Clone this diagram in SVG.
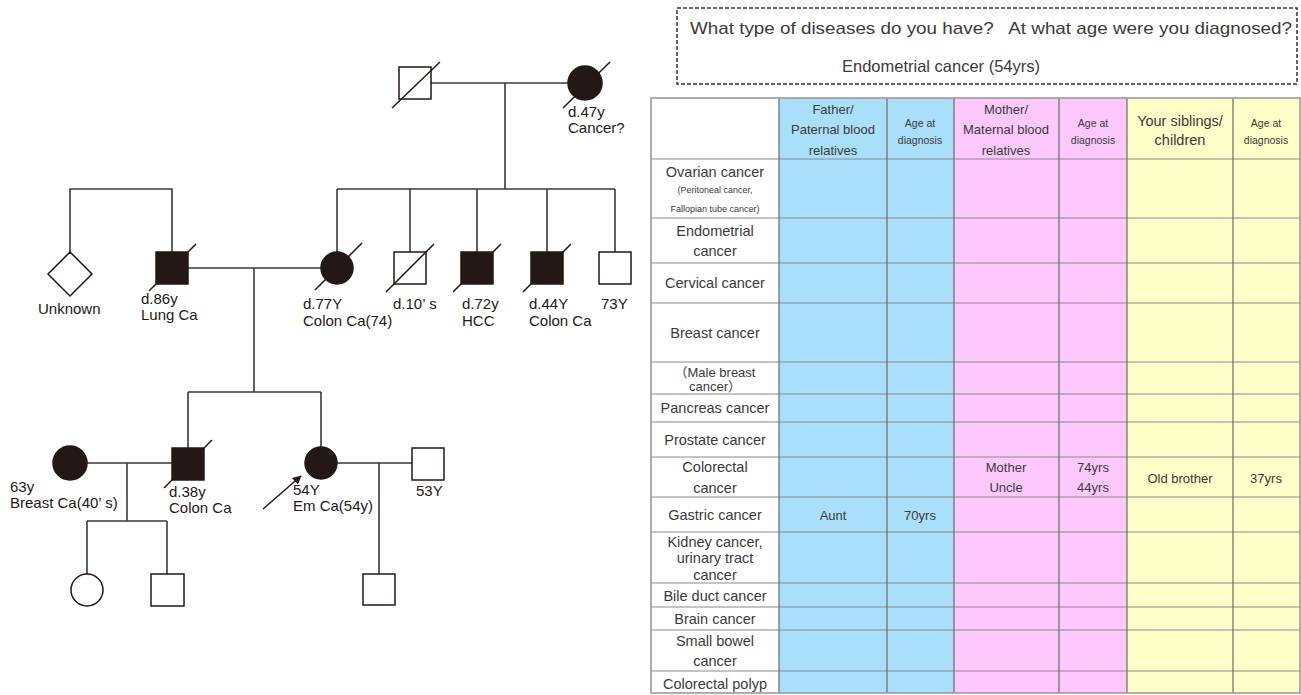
<svg xmlns="http://www.w3.org/2000/svg" width="1301" height="695" viewBox="0 0 1301 695">
<style>
.ln{stroke:#3a3a3a;stroke-width:1.6;fill:none}
.op{fill:#fff;stroke:#231815;stroke-width:1.5}
.fl{fill:#231815;stroke:#231815;stroke-width:1.5}
.sl{stroke:#231815;stroke-width:1.5}
.lb{font-family:"Liberation Sans",Arial,sans-serif;font-size:15px;fill:#231815}
.tt{font-family:"Liberation Sans","Noto Sans CJK JP",sans-serif;fill:#3a3a3a;text-anchor:middle}
.t14{font-size:14.5px}
.t13{font-size:13px}
.t11{font-size:10.5px}
.t9{font-size:9px}
.gv{stroke:#6a6a6a;stroke-width:1.2}
.gh{stroke:#8a8a8a;stroke-width:1.2}
</style>
<defs>
<marker id="ah" viewBox="0 0 10 10" refX="9" refY="5" markerWidth="9" markerHeight="9" markerUnits="userSpaceOnUse" orient="auto">
<path d="M0,0 L10,5 L0,10 z" fill="#231815"/>
</marker>
</defs>
<rect width="1301" height="695" fill="#fff"/>

<g id="connectors">
<path class="ln" d="M431,83 H568 M505,83 V189 M337,189 H615 M337,189 V252 M410,189 V252 M477,189 V252 M547,189 V252 M615,189 V252"/>
<path class="ln" d="M70,252 V189 H172 V252 M188,268 H321 M254,268 V392 M188,392 H321 M188,392 V448 M321,392 V447"/>
<path class="ln" d="M87,463 H172 M127,463 V521 M87,521 H167 M87,521 V574 M167,521 V574 M337,463 H412 M379,463 V574"/>
<line x1="263" y1="509" x2="301" y2="476" stroke="#231815" stroke-width="1.5" marker-end="url(#ah)"/>
</g>

<g id="n-grandfather"><rect class="op" x="399" y="67" width="32" height="32"/><line class="sl" x1="392" y1="108" x2="440" y2="62"/></g>
<g id="n-grandmother"><circle class="fl" cx="585" cy="83" r="17"/><line class="sl" x1="563" y1="108" x2="610" y2="62"/>
<text class="lb" x="568" y="117">d.47y</text><text class="lb" x="568" y="133">Cancer?</text></g>

<g id="n-unknown"><polygon class="op" points="70,252 92,274 70,296 48,274"/><text class="lb" x="38" y="314">Unknown</text></g>
<g id="n-father"><rect class="fl" x="156" y="252" width="32" height="32"/><line class="sl" x1="149" y1="291" x2="196" y2="244"/>
<text class="lb" x="141" y="304">d.86y</text><text class="lb" x="141" y="320">Lung Ca</text></g>
<g id="n-mother"><circle class="fl" cx="337" cy="268" r="16"/><line class="sl" x1="315" y1="290" x2="362" y2="243"/>
<text class="lb" x="303" y="309">d.77Y</text><text class="lb" x="303" y="326">Colon Ca(74)</text></g>
<g id="n-d10"><rect class="op" x="394" y="252" width="32" height="32"/><line class="sl" x1="386" y1="292" x2="434" y2="244"/>
<text class="lb" x="393" y="309">d.10’ s</text></g>
<g id="n-hcc"><rect class="fl" x="461" y="252" width="32" height="32"/><line class="sl" x1="453" y1="292" x2="501" y2="244"/>
<text class="lb" x="462" y="309">d.72y</text><text class="lb" x="462" y="326">HCC</text></g>
<g id="n-d44"><rect class="fl" x="531" y="252" width="32" height="32"/><line class="sl" x1="523" y1="292" x2="571" y2="244"/>
<text class="lb" x="529" y="309">d.44Y</text><text class="lb" x="529" y="326">Colon Ca</text></g>
<g id="n-73y"><rect class="op" x="599" y="252" width="32" height="32"/><text class="lb" x="601" y="309">73Y</text></g>

<g id="n-sisterinlaw"><circle class="fl" cx="70" cy="463" r="17"/>
<text class="lb" x="10" y="492">63y</text><text class="lb" x="10" y="508">Breast Ca(40’ s)</text></g>
<g id="n-brother"><rect class="fl" x="172" y="448" width="32" height="32"/><line class="sl" x1="164" y1="488" x2="212" y2="440"/>
<text class="lb" x="169" y="497">d.38y</text><text class="lb" x="169" y="513">Colon Ca</text></g>
<g id="n-proband"><circle class="fl" cx="321" cy="463" r="16"/>
<text class="lb" x="293" y="495">54Y</text><text class="lb" x="293" y="511">Em Ca(54y)</text></g>
<g id="n-husband"><rect class="op" x="412" y="448" width="32" height="32"/><text class="lb" x="416" y="496">53Y</text></g>
<g id="n-niece"><circle class="op" cx="87" cy="590" r="16"/></g>
<g id="n-nephew"><rect class="op" x="151" y="574" width="33" height="32"/></g>
<g id="n-son"><rect class="op" x="363" y="574" width="32" height="31"/></g>

<g id="question">
<rect x="677" y="8" width="620" height="76" fill="none" stroke="#333" stroke-width="1.5" stroke-dasharray="4,2"/>
<text class="tt" x="991" y="34" font-size="17" textLength="602" lengthAdjust="spacingAndGlyphs" xml:space="preserve">What type of diseases do you have?   At what age were you diagnosed?</text>
<text class="tt" x="941" y="72" font-size="16.5">Endometrial cancer (54yrs)</text>
</g>

<g id="table">
<rect x="651" y="98" width="128" height="595" fill="#fff"/>
<rect x="779" y="98" width="175" height="595" fill="#aadffa"/>
<rect x="954" y="98" width="173" height="595" fill="#fdc9fd"/>
<rect x="1127" y="98" width="173" height="595" fill="#fefec9"/>
<g class="gh">
<line x1="651" y1="159" x2="1300" y2="159"/><line x1="651" y1="218" x2="1300" y2="218"/>
<line x1="651" y1="263" x2="1300" y2="263"/><line x1="651" y1="303" x2="1300" y2="303"/>
<line x1="651" y1="362" x2="1300" y2="362"/><line x1="651" y1="394" x2="1300" y2="394"/>
<line x1="651" y1="422" x2="1300" y2="422"/><line x1="651" y1="457" x2="1300" y2="457"/>
<line x1="651" y1="497" x2="1300" y2="497"/><line x1="651" y1="532" x2="1300" y2="532"/>
<line x1="651" y1="583" x2="1300" y2="583"/><line x1="651" y1="607" x2="1300" y2="607"/>
<line x1="651" y1="630" x2="1300" y2="630"/><line x1="651" y1="671" x2="1300" y2="671"/>
</g>
<g class="gv">
<line x1="779" y1="98" x2="779" y2="693"/><line x1="887" y1="98" x2="887" y2="693"/>
<line x1="954" y1="98" x2="954" y2="693"/><line x1="1059" y1="98" x2="1059" y2="693"/>
<line x1="1127" y1="98" x2="1127" y2="693"/><line x1="1233" y1="98" x2="1233" y2="693"/>
</g>
<rect x="651" y="98" width="649" height="595" fill="none" stroke="#9a9a9a" stroke-width="1.6"/>

<text class="tt t13" x="833" y="114">Father/</text>
<text class="tt t13" x="833" y="134">Paternal blood</text>
<text class="tt t13" x="833" y="155">relatives</text>
<text class="tt t11" x="920" y="127">Age at</text>
<text class="tt t11" x="920" y="144">diagnosis</text>
<text class="tt t13" x="1006" y="114">Mother/</text>
<text class="tt t13" x="1006" y="134">Maternal blood</text>
<text class="tt t13" x="1006" y="155">relatives</text>
<text class="tt t11" x="1093" y="127">Age at</text>
<text class="tt t11" x="1093" y="144">diagnosis</text>
<text class="tt t14" x="1180" y="126">Your siblings/</text>
<text class="tt t14" x="1180" y="145">children</text>
<text class="tt t11" x="1266" y="127">Age at</text>
<text class="tt t11" x="1266" y="144">diagnosis</text>

<text class="tt t14" x="715" y="177">Ovarian cancer</text>
<text class="tt t9" x="715" y="193">(Peritoneal cancer,</text>
<text class="tt t9" x="715" y="212">Fallopian tube cancer)</text>
<text class="tt t14" x="715" y="236">Endometrial</text>
<text class="tt t14" x="715" y="256">cancer</text>
<text class="tt t14" x="715" y="288">Cervical cancer</text>
<text class="tt t14" x="715" y="338">Breast cancer</text>
<text class="tt t13" x="715" y="377">（Male breast</text>
<text class="tt t13" x="715" y="391">cancer）</text>
<text class="tt t14" x="715" y="413">Pancreas cancer</text>
<text class="tt t14" x="715" y="445">Prostate cancer</text>
<text class="tt t14" x="715" y="472">Colorectal</text>
<text class="tt t14" x="715" y="493">cancer</text>
<text class="tt t14" x="715" y="520">Gastric cancer</text>
<text class="tt t14" x="715" y="547">Kidney cancer,</text>
<text class="tt t14" x="715" y="563">urinary tract</text>
<text class="tt t14" x="715" y="580">cancer</text>
<text class="tt t14" x="715" y="601">Bile duct cancer</text>
<text class="tt t14" x="715" y="624">Brain cancer</text>
<text class="tt t14" x="715" y="646">Small bowel</text>
<text class="tt t14" x="715" y="666">cancer</text>
<text class="tt t14" x="715" y="689">Colorectal polyp</text>

<text class="tt t13" x="1006" y="472">Mother</text>
<text class="tt t13" x="1006" y="492">Uncle</text>
<text class="tt t13" x="1093" y="472">74yrs</text>
<text class="tt t13" x="1093" y="492">44yrs</text>
<text class="tt t13" x="1180" y="483">Old brother</text>
<text class="tt t13" x="1266" y="483">37yrs</text>
<text class="tt t13" x="833" y="520">Aunt</text>
<text class="tt t13" x="920" y="520">70yrs</text>
</g>
</svg>
